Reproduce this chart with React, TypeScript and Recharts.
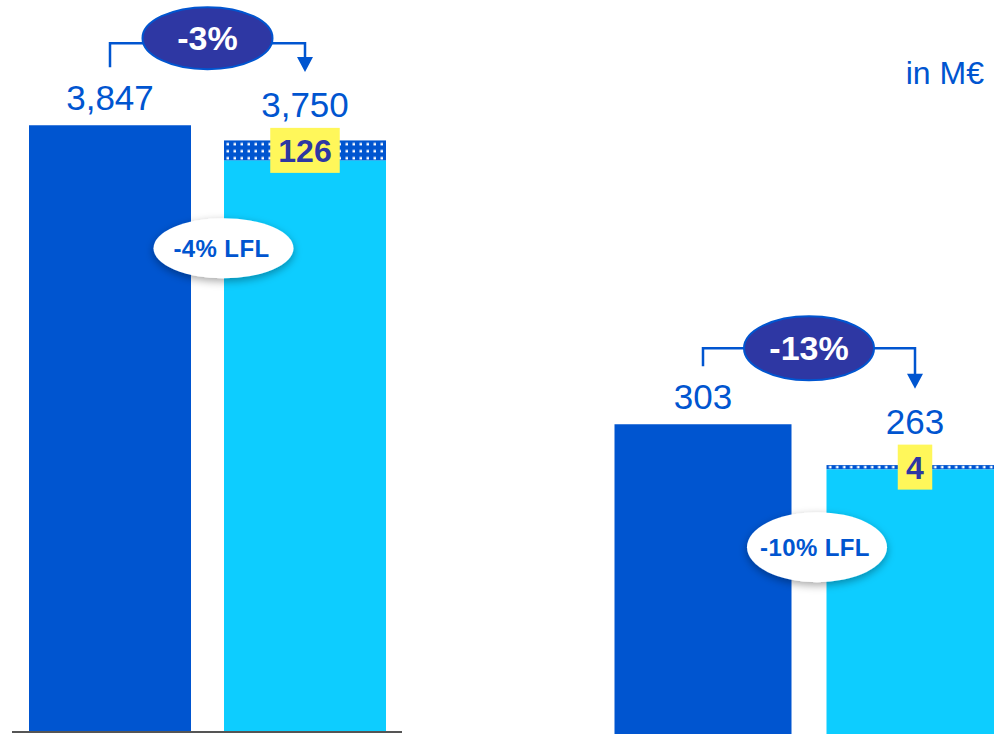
import React from 'react';
import { BarChart, Bar, XAxis, YAxis, Cell, LabelList } from 'recharts';

// ---------- data ----------
const categories = ['Previous year', 'Current year'];
const salesTotals = [3847, 3750];
const salesScope = [0, 126];
const ebitTotals = [303, 263];
const ebitScope = [0, 4];
const changeLabels = ['-3%', '-13%'];
const lflLabels = ['-4% LFL', '-10% LFL'];
const unitLabel = 'in M€';

// ---------- style ----------
const BLUE = '#0055D0';
const CYAN = '#0DCDFF';
const NAVY = '#2E37A3';
const YELLOW = '#FFF75A';
const FONT = '"Liberation Sans", Arial, sans-serif';
const barColors = [BLUE, CYAN];

type Row = { name: string; base: number; scope: number; total: number };

const buildRows = (totals: number[], scope: number[]): Row[] =>
  categories.map((name, i) => ({ name, base: totals[i] - scope[i], scope: scope[i], total: totals[i] }));

const fmt = (v: number) => v.toLocaleString('en-US');

type PanelCfg = {
  id: string;
  left: number;
  width: number;
  margin: { top: number; right: number; bottom: number; left: number };
  domain: [number, number];
  barSize: number;
  showAxis: boolean;
  bracketRise: number;
  ellipseDy: number;
  ellipseRy: number;
  lflDx: number;
  lflDy: number;
  lflRy: number;
};

const ScopeShape = (props: any) => {
  const { x, y, width, height, index } = props;
  if (!height || height <= 0) return null;
  const pid = `dots-${props.pid}-${index}`;
  const dy = Math.min(2.5, height / 2 - 1.25);
  return (
    <g>
      <defs>
        <pattern id={pid} patternUnits="userSpaceOnUse" x={x} y={y} width={7} height={7}>
          <rect x={0} y={0} width={7} height={7} fill={BLUE} />
          <rect x={2.5} y={dy} width={2.5} height={2.5} fill="#ffffff" />
        </pattern>
      </defs>
      <rect x={x} y={y} width={width} height={height} fill={`url(#${pid})`} />
    </g>
  );
};

function Panel({ rows, cfg, change, lfl }: { rows: Row[]; cfg: PanelCfg; change: string; lfl: string }) {
  const pos: { cx: number; labelTop: number; top: number; baseTop: number }[] = [];

  const renderLabel = (props: any) => {
    const vb = props.viewBox || {};
    const x = props.x ?? vb.x;
    const y = props.y ?? vb.y;
    const width = props.width ?? vb.width;
    const height = props.height ?? vb.height;
    let index = props.index;
    if (index === undefined) index = rows.findIndex((r) => r.base === props.value);
    const d = rows[index];
    if (!d) return null;
    const cx = x + width / 2;
    const ppu = height / d.base;
    const scopeH = d.scope * ppu;
    const top = y - scopeH;
    const out: React.ReactNode[] = [];
    let baseline: number;
    if (d.scope > 0) {
      const boxCy = y - scopeH / 2;
      const txt = fmt(d.scope);
      const bw = txt.length * 17.5 + 17;
      out.push(
        <rect key="box" x={cx - bw / 2} y={boxCy - 22.5} width={bw} height={45} fill={YELLOW} />,
        <text key="boxt" x={cx} y={boxCy + 11.5} textAnchor="middle" fontFamily={FONT} fontWeight="bold" fontSize={32} fill={NAVY}>
          {txt}
        </text>
      );
      baseline = boxCy - 22.5 - 11;
    } else {
      baseline = top - 15;
    }
    out.push(
      <text key="val" x={cx} y={baseline} textAnchor="middle" fontFamily={FONT} fontSize={35} fill={BLUE}>
        {fmt(d.total)}
      </text>
    );
    pos[index] = { cx, labelTop: baseline - 25, top, baseTop: y };

    if (index === 1 && pos[0]) {
      const p0 = pos[0];
      const p1 = pos[1];
      const by = p0.labelTop - cfg.bracketRise;
      const mid = (p0.cx + p1.cx) / 2;
      const tip = p1.labelTop - 20;
      out.push(
        <g key="bracket">
          <path
            d={`M${p0.cx},${p0.labelTop - 18} L${p0.cx},${by} L${p1.cx},${by} L${p1.cx},${tip - 14}`}
            fill="none"
            stroke={BLUE}
            strokeWidth={2.5}
          />
          <path d={`M${p1.cx - 8},${tip - 15} L${p1.cx + 8},${tip - 15} L${p1.cx},${tip} Z`} fill={BLUE} />
          <ellipse cx={mid} cy={by + cfg.ellipseDy} rx={65} ry={cfg.ellipseRy} fill={NAVY} stroke={BLUE} strokeWidth={2} />
          <text x={mid} y={by + cfg.ellipseDy + 12} textAnchor="middle" fontFamily={FONT} fontWeight="bold" fontSize={34} fill="#ffffff">
            {change}
          </text>
        </g>,
        <g key="lfl">
          <ellipse
            cx={mid + cfg.lflDx}
            cy={p1.baseTop + cfg.lflDy}
            rx={70}
            ry={cfg.lflRy}
            fill="#ffffff"
            filter={`url(#shadow-${cfg.id})`}
          />
          <text
            x={mid + cfg.lflDx - 2}
            y={p1.baseTop + cfg.lflDy + 9}
            textAnchor="middle"
            fontFamily={FONT}
            fontWeight="bold"
            fontSize={24}
            letterSpacing={0.4}
            fill={BLUE}
          >
            {lfl}
          </text>
        </g>
      );
    }
    return <g>{out}</g>;
  };

  return (
    <div style={{ position: 'absolute', left: cfg.left, top: 0 }}>
      <BarChart width={cfg.width} height={734} data={rows} margin={cfg.margin}>
        <defs>
          <filter id={`shadow-${cfg.id}`} x="-30%" y="-40%" width="160%" height="190%">
            <feDropShadow dx={0} dy={3} stdDeviation={4} floodColor="#000000" floodOpacity={0.35} />
          </filter>
        </defs>
        <XAxis
          dataKey="name"
          tick={false}
          tickLine={false}
          axisLine={cfg.showAxis ? { stroke: '#555555', strokeWidth: 2 } : false}
          height={cfg.showAxis ? 1 : 0}
          hide={!cfg.showAxis}
        />
        <YAxis hide domain={cfg.domain} type="number" allowDataOverflow />
        <Bar dataKey="base" stackId="s" barSize={cfg.barSize} isAnimationActive={false}>
          {rows.map((r, i) => (
            <Cell key={r.name} fill={barColors[i]} />
          ))}
          <LabelList dataKey="base" content={renderLabel} />
        </Bar>
        <Bar
          dataKey="scope"
          stackId="s"
          barSize={cfg.barSize}
          isAnimationActive={false}
          shape={(p: any) => <ScopeShape {...p} pid={cfg.id} />}
        />
      </BarChart>
    </div>
  );
}

const salesCfg: PanelCfg = {
  id: 'sales',
  left: 0,
  width: 420,
  margin: { top: 101, right: 18, bottom: 1, left: 12 },
  domain: [0, 4000],
  barSize: 162,
  showAxis: true,
  bracketRise: 42,
  ellipseDy: -5,
  ellipseRy: 31,
  lflDx: 16,
  lflDy: 88,
  lflRy: 30,
};

const ebitCfg: PanelCfg = {
  id: 'ebit',
  left: 580,
  width: 460,
  margin: { top: 325, right: 19.5, bottom: 0, left: 16.5 },
  domain: [0, 400],
  barSize: 177,
  showAxis: false,
  bracketRise: 36,
  ellipseDy: 0,
  ellipseRy: 32,
  lflDx: 8,
  lflDy: 78,
  lflRy: 35,
};

export default function App() {
  const sales = buildRows(salesTotals, salesScope);
  const ebit = buildRows(ebitTotals, ebitScope);
  return (
    <div
      style={{
        position: 'absolute',
        left: 0,
        top: 0,
        width: 994,
        height: 734,
        overflow: 'hidden',
        background: '#ffffff',
      }}
    >
      <Panel rows={sales} cfg={salesCfg} change={changeLabels[0]} lfl={lflLabels[0]} />
      <Panel rows={ebit} cfg={ebitCfg} change={changeLabels[1]} lfl={lflLabels[1]} />
      <svg width={994} height={734} style={{ position: 'absolute', left: 0, top: 0, pointerEvents: 'none' }}>
        <text x={984} y={84} textAnchor="end" fontFamily={FONT} fontSize={32} fill={BLUE}>
          {unitLabel}
        </text>
      </svg>
    </div>
  );
}
